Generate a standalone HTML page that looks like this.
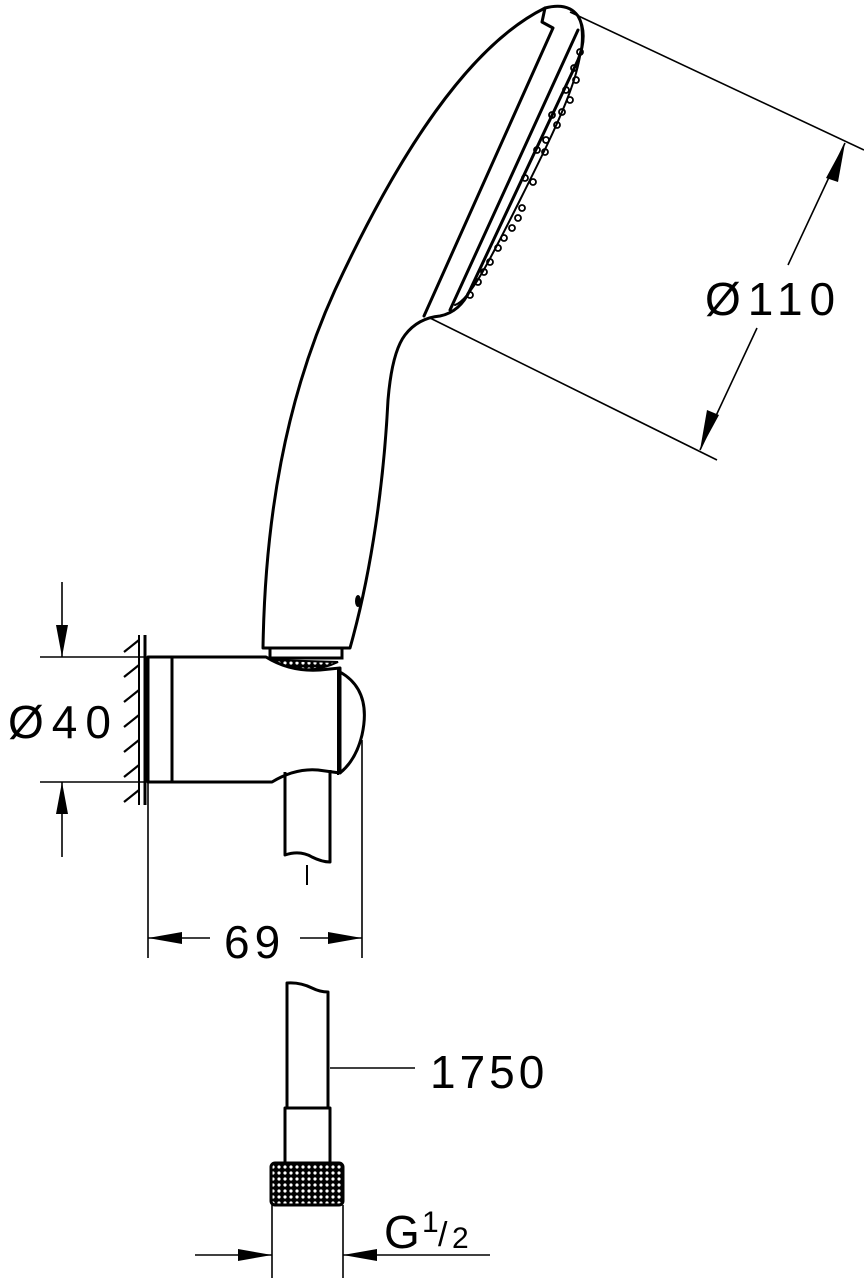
<!DOCTYPE html>
<html><head><meta charset="utf-8"><style>html,body{margin:0;padding:0;background:#fff}svg{display:block}</style></head><body>
<svg width="864" height="1280" viewBox="0 0 864 1280" xmlns="http://www.w3.org/2000/svg">
<defs>
<pattern id="kn" width="6" height="6" patternUnits="userSpaceOnUse"><rect width="6" height="6" fill="#000"/><circle cx="3" cy="3" r="1.6" fill="#fff"/></pattern>
</defs>
<g fill="none" stroke="#000" stroke-width="3" stroke-linejoin="round" stroke-linecap="round">
<path d="M263,648 C265,520 285,400 335,290 C400,150 470,45 545,8 Q568,2 578,16 C586,30 584,45 578,60 L470,290 Q460,312 440,316 Q418,318 405,335 Q392,352 388,400 C384,480 372,570 350,648 Z"/>
<path d="M545,8 L542,22 L553,28 L424,316"/>
<path d="M578,30 L450,310"/>
<path d="M580,20 C590,60 560,120 520,200 C490,260 470,300 455,305" stroke-width="2"/>
</g>
<g fill="none" stroke="#000" stroke-width="1.8">
<circle cx="580" cy="52" r="3"/><circle cx="574" cy="68" r="3"/><circle cx="576" cy="80" r="3"/><circle cx="566" cy="90" r="3"/><circle cx="570" cy="100" r="3"/>
<circle cx="562" cy="112" r="3"/><circle cx="552" cy="115" r="3"/><circle cx="557" cy="125" r="3"/><circle cx="546" cy="140" r="3"/><circle cx="545" cy="152" r="3"/><circle cx="537" cy="150" r="3"/>
<circle cx="525" cy="178" r="3"/><circle cx="533" cy="182" r="3"/><circle cx="522" cy="208" r="3"/><circle cx="518" cy="218" r="3"/><circle cx="512" cy="228" r="3"/>
<circle cx="504" cy="238" r="3"/><circle cx="498" cy="248" r="3"/><circle cx="490" cy="262" r="3"/><circle cx="484" cy="272" r="3"/><circle cx="478" cy="282" r="3"/><circle cx="470" cy="295" r="3"/>
</g>
<ellipse cx="358" cy="601" rx="3" ry="6" fill="#000"/>
<rect x="270" y="648" width="72" height="10" fill="#fff" stroke="#000" stroke-width="3"/>
<path d="M272,660 Q305,678 338,662 Z" fill="url(#kn)" stroke="#000" stroke-width="2"/>
<g fill="none" stroke="#000" stroke-width="3" stroke-linejoin="round">
<path d="M148,657 L266,657 Q290,672 320,670 L340,668 L340,773 L318,770 Q295,768 272,782 L148,782 Z"/>
<line x1="172" y1="657" x2="172" y2="782"/>
<path d="M340,672 Q372,690 362,735 Q356,760 340,773"/>
<line x1="338" y1="668" x2="338" y2="775" stroke-width="2"/>
<path d="M285,772 L285,855 Q300,850 312,857 Q322,862 330,862 L330,770"/>
<line x1="307" y1="865" x2="307" y2="885" stroke-width="2"/>
<line x1="145" y1="635" x2="145" y2="805"/>
<line x1="139" y1="635" x2="139" y2="805" stroke-width="2"/>
</g>
<g stroke="#000" stroke-width="2.2" fill="none">
<path d="M139,640 L124,652 M139,665 L124,677 M139,690 L124,702 M139,715 L124,727 M139,740 L124,752 M139,765 L124,777 M139,790 L124,802"/>
</g>
<g stroke="#000" stroke-width="1.6" fill="none">
<line x1="570" y1="12" x2="864" y2="150"/>
<line x1="430" y1="318" x2="717" y2="460"/>
<line x1="845" y1="143" x2="788" y2="265"/>
<line x1="757" y1="328" x2="700" y2="450"/>
<line x1="40" y1="657" x2="145" y2="657"/>
<line x1="40" y1="782" x2="145" y2="782"/>
<line x1="62" y1="582" x2="62" y2="657"/>
<line x1="62" y1="782" x2="62" y2="857"/>
<line x1="148" y1="782" x2="148" y2="958"/>
<line x1="362" y1="740" x2="362" y2="958"/>
<line x1="148" y1="938" x2="210" y2="938"/>
<line x1="300" y1="938" x2="362" y2="938"/>
<line x1="330" y1="1068" x2="415" y2="1068"/>
<line x1="272" y1="1205" x2="272" y2="1278"/>
<line x1="343" y1="1205" x2="343" y2="1278"/>
<line x1="195" y1="1255" x2="272" y2="1255"/>
<line x1="343" y1="1255" x2="490" y2="1255"/>
</g>
<g fill="#000">
<polygon points="845,143 826,178 838,182"/>
<polygon points="700,450 719,415 707,410"/>
<polygon points="62,657 56,625 68,625"/>
<polygon points="62,782 56,814 68,814"/>
<polygon points="148,938 182,932 182,944"/>
<polygon points="362,938 328,932 328,944"/>
<polygon points="272,1255 238,1249 238,1261"/>
<polygon points="343,1255 377,1249 377,1261"/>
</g>
<g fill="none" stroke="#000" stroke-width="3" stroke-linejoin="round">
<path d="M287,1108 L287,983 Q300,982 312,988 Q320,992 328,992 L328,1108"/>
<rect x="285" y="1108" width="45" height="55"/>
</g>
<rect x="271" y="1163" width="72" height="42" rx="4" fill="url(#kn)" stroke="#000" stroke-width="3"/>
<g font-family="Liberation Sans, sans-serif" fill="#000">
<text x="705" y="315" font-size="46" letter-spacing="7">Ø110</text>
<text x="8" y="738" font-size="46" letter-spacing="8">Ø40</text>
<text x="224" y="958" font-size="46" letter-spacing="5">69</text>
<text x="430" y="1088" font-size="46" letter-spacing="4">1750</text>
<text x="384" y="1248" font-size="46">G</text>
<text x="422" y="1232" font-size="30">1</text>
<text x="438" y="1246" font-size="34">/</text>
<text x="452" y="1248" font-size="30">2</text>
</g>
</svg>
</body></html>
